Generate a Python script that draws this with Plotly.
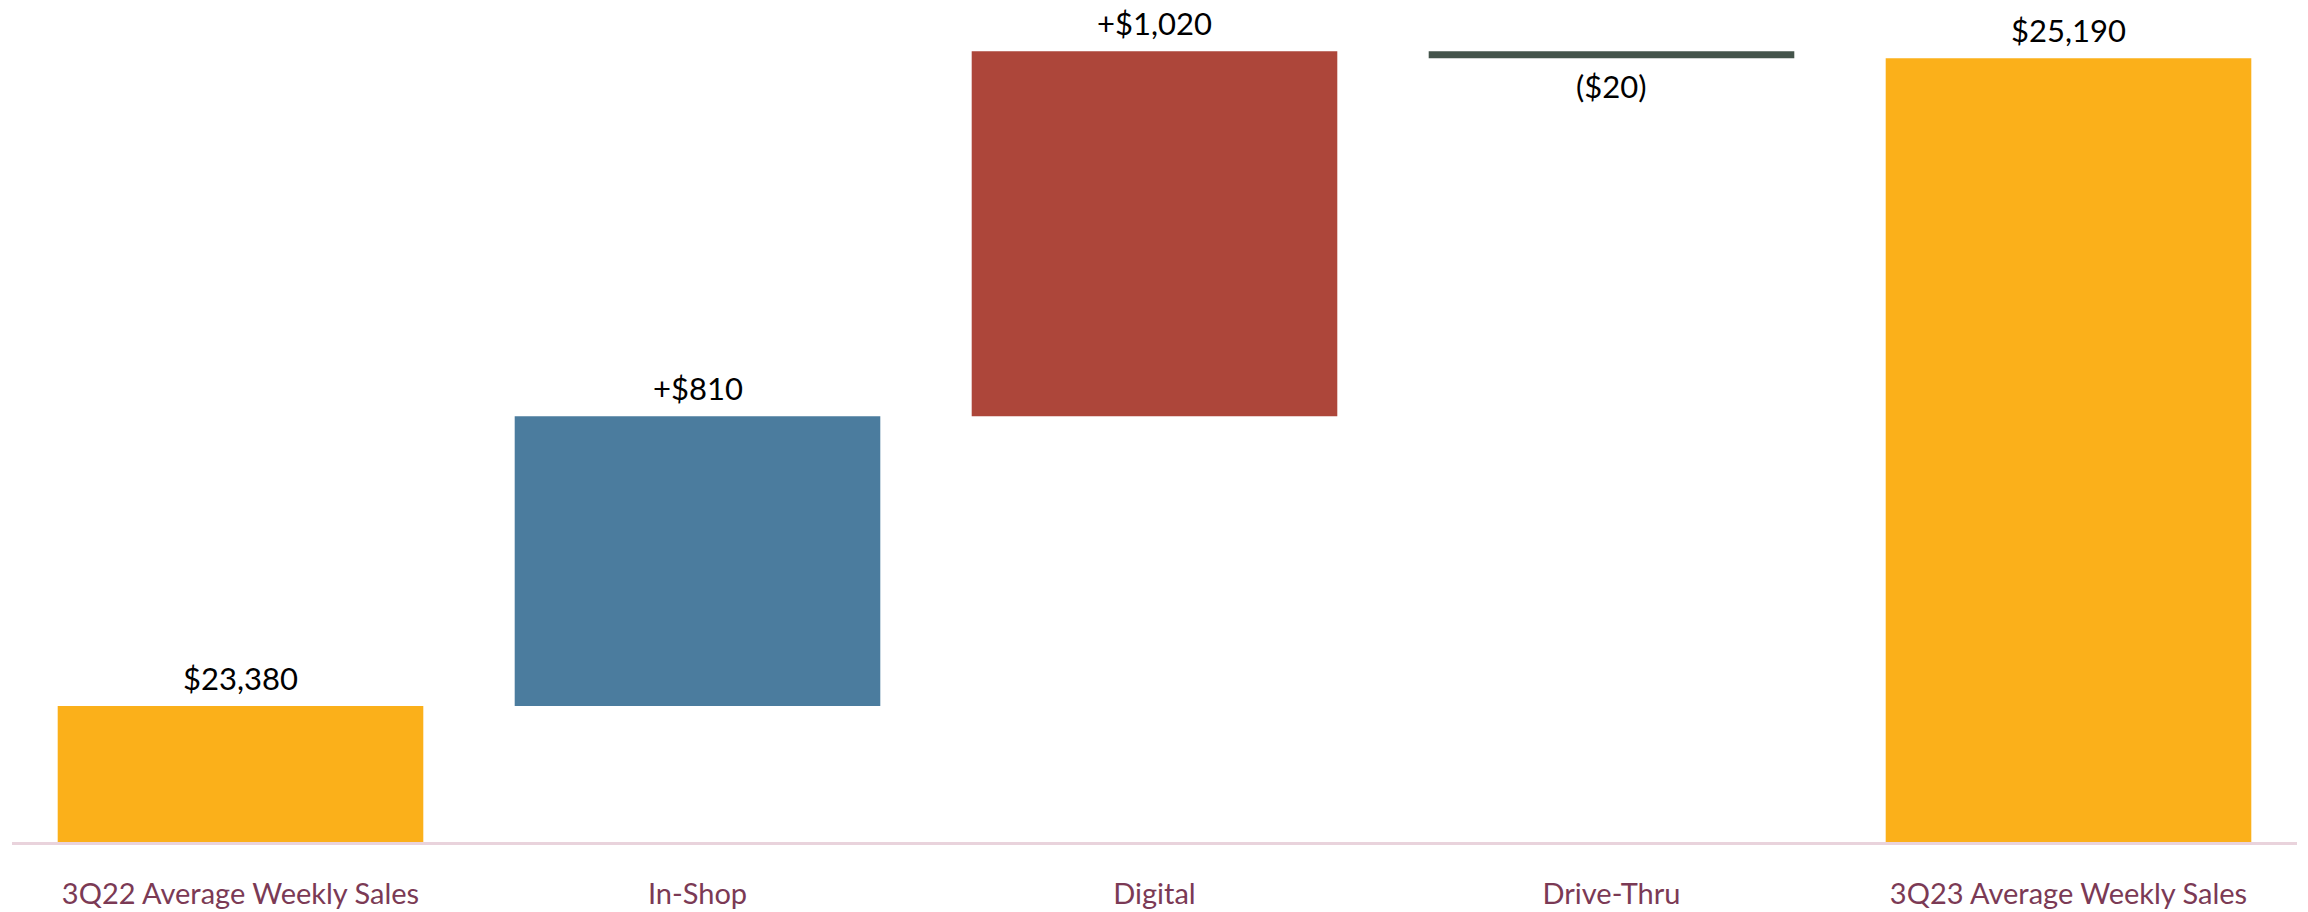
import plotly.graph_objects as go

categories = ["3Q22 Average Weekly Sales", "In-Shop", "Digital", "Drive-Thru", "3Q23 Average Weekly Sales"]
measures = ["absolute", "relative", "relative", "relative", "total"]
values = [23380, 810, 1020, -20, 25190]
labels = ["$23,380", "+$810", "+$1,020", "($20)", "$25,190"]
colors = ["#FBB01A", "#4B7C9E", "#AD463A", "#44544B", "#FBB01A"]

# compute bases / heights from the waterfall logic
bases, heights = [], []
running = 0
for m, v in zip(measures, values):
    if m == "absolute":
        bases.append(0); heights.append(v); running = v
    elif m == "total":
        bases.append(0); heights.append(running)
    else:
        bases.append(running); heights.append(v); running += v

fig = go.Figure()
fig.add_trace(go.Bar(
    x=categories, y=heights, base=bases,
    marker=dict(color=colors, line=dict(width=0)),
    hoverinfo="skip", showlegend=False,
))

for c, b, h, lab in zip(categories, bases, heights, labels):
    if h >= 0:
        fig.add_annotation(x=c, y=b + h, text=lab, showarrow=False,
                           yanchor="bottom", yshift=7,
                           font=dict(family="Lato", size=31, color="#000000"))
    else:
        fig.add_annotation(x=c, y=b + h, text=lab, showarrow=False,
                           yanchor="top", yshift=-7,
                           font=dict(family="Lato", size=31, color="#000000"))

fig.update_layout(
    width=2308, height=912,
    margin=dict(l=12, r=11, t=19, b=70),
    paper_bgcolor="white", plot_bgcolor="white",
    bargap=0.2,
    xaxis=dict(
        showline=True, linecolor="#E9D3DC", linewidth=3,
        ticks="outside", ticklen=24, tickcolor="rgba(0,0,0,0)",
        tickfont=dict(family="Lato", size=29, color="#7B3A55"),
        showgrid=False, zeroline=False, automargin=False,
    ),
    yaxis=dict(
        range=[23000, 25300], visible=False, showgrid=False, zeroline=False,
        automargin=False,
    ),
)

fig.write_html("out.html")
